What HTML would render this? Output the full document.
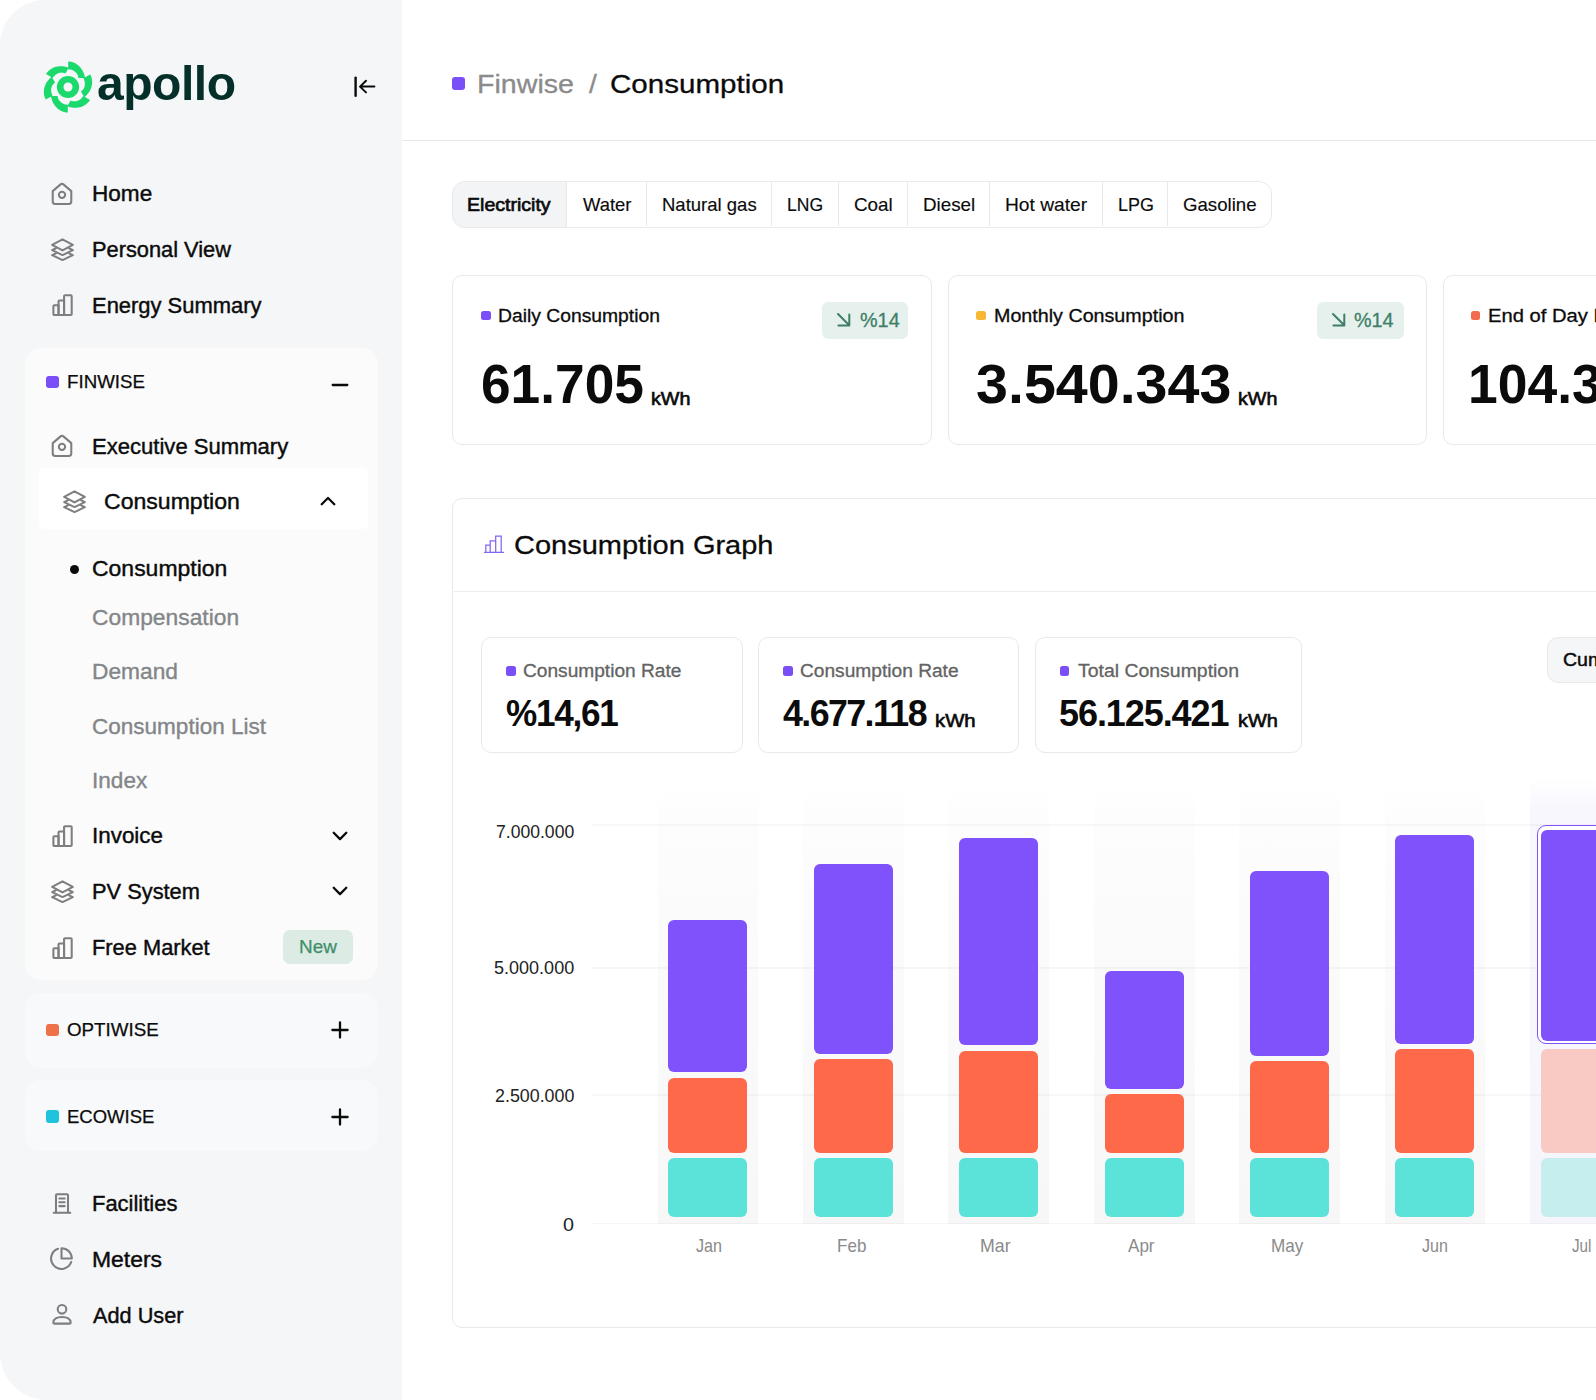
<!DOCTYPE html>
<html lang="en">
<head>
<meta charset="utf-8">
<title>Apollo - Consumption</title>
<style>
*{box-sizing:border-box;margin:0;padding:0}
html,body{width:1596px;height:1400px;overflow:hidden;background:#fff}
body{font-family:"Liberation Sans",Arial,sans-serif;color:#0b0b0b;position:relative}
.abs{position:absolute}
.t{position:absolute;white-space:nowrap;transform-origin:0 50%}
#side{position:absolute;left:0;top:0;width:402px;height:1400px;background:#f5f6f8;border-radius:45px 0 0 47px}
#main{position:absolute;left:402px;top:0;width:1194px;height:1400px;background:#fff;overflow:hidden}
.card{position:absolute;background:#fff;border:1.5px solid #e8e8ea;border-radius:13px}
</style>
</head>
<body>
<div id="side">
<svg class="abs" style="left:39.65px;top:59.40px;width:56px;height:56px" viewBox="-28 -28 56 56"><g fill="#1bd96d"><circle r="11.100"/><path transform="rotate(0)" d="M0.22,-25.52 L2.04,-25.39 L3.83,-25.03 L5.56,-24.47 L7.21,-23.72 L8.75,-22.80 L10.18,-21.74 L11.48,-20.54 L12.64,-19.24 L13.66,-17.87 L14.54,-16.43 L15.27,-14.96 L15.88,-13.46 L16.36,-11.97 L16.72,-10.49 L16.99,-9.03 L10.43,-8.94 L10.27,-10.04 L9.97,-11.12 L9.53,-12.15 L8.97,-13.13 L8.30,-14.04 L7.52,-14.87 L6.65,-15.60 L5.69,-16.24 L4.66,-16.76 L3.58,-17.17 L2.46,-17.45 L1.31,-17.60 L0.15,-17.63Z"/><path transform="rotate(60)" d="M0.22,-25.52 L2.04,-25.39 L3.83,-25.03 L5.56,-24.47 L7.21,-23.72 L8.75,-22.80 L10.18,-21.74 L11.48,-20.54 L12.64,-19.24 L13.66,-17.87 L14.54,-16.43 L15.27,-14.96 L15.88,-13.46 L16.36,-11.97 L16.72,-10.49 L16.99,-9.03 L10.43,-8.94 L10.27,-10.04 L9.97,-11.12 L9.53,-12.15 L8.97,-13.13 L8.30,-14.04 L7.52,-14.87 L6.65,-15.60 L5.69,-16.24 L4.66,-16.76 L3.58,-17.17 L2.46,-17.45 L1.31,-17.60 L0.15,-17.63Z"/><path transform="rotate(120)" d="M0.22,-25.52 L2.04,-25.39 L3.83,-25.03 L5.56,-24.47 L7.21,-23.72 L8.75,-22.80 L10.18,-21.74 L11.48,-20.54 L12.64,-19.24 L13.66,-17.87 L14.54,-16.43 L15.27,-14.96 L15.88,-13.46 L16.36,-11.97 L16.72,-10.49 L16.99,-9.03 L10.43,-8.94 L10.27,-10.04 L9.97,-11.12 L9.53,-12.15 L8.97,-13.13 L8.30,-14.04 L7.52,-14.87 L6.65,-15.60 L5.69,-16.24 L4.66,-16.76 L3.58,-17.17 L2.46,-17.45 L1.31,-17.60 L0.15,-17.63Z"/><path transform="rotate(180)" d="M0.22,-25.52 L2.04,-25.39 L3.83,-25.03 L5.56,-24.47 L7.21,-23.72 L8.75,-22.80 L10.18,-21.74 L11.48,-20.54 L12.64,-19.24 L13.66,-17.87 L14.54,-16.43 L15.27,-14.96 L15.88,-13.46 L16.36,-11.97 L16.72,-10.49 L16.99,-9.03 L10.43,-8.94 L10.27,-10.04 L9.97,-11.12 L9.53,-12.15 L8.97,-13.13 L8.30,-14.04 L7.52,-14.87 L6.65,-15.60 L5.69,-16.24 L4.66,-16.76 L3.58,-17.17 L2.46,-17.45 L1.31,-17.60 L0.15,-17.63Z"/><path transform="rotate(240)" d="M0.22,-25.52 L2.04,-25.39 L3.83,-25.03 L5.56,-24.47 L7.21,-23.72 L8.75,-22.80 L10.18,-21.74 L11.48,-20.54 L12.64,-19.24 L13.66,-17.87 L14.54,-16.43 L15.27,-14.96 L15.88,-13.46 L16.36,-11.97 L16.72,-10.49 L16.99,-9.03 L10.43,-8.94 L10.27,-10.04 L9.97,-11.12 L9.53,-12.15 L8.97,-13.13 L8.30,-14.04 L7.52,-14.87 L6.65,-15.60 L5.69,-16.24 L4.66,-16.76 L3.58,-17.17 L2.46,-17.45 L1.31,-17.60 L0.15,-17.63Z"/><path transform="rotate(300)" d="M0.22,-25.52 L2.04,-25.39 L3.83,-25.03 L5.56,-24.47 L7.21,-23.72 L8.75,-22.80 L10.18,-21.74 L11.48,-20.54 L12.64,-19.24 L13.66,-17.87 L14.54,-16.43 L15.27,-14.96 L15.88,-13.46 L16.36,-11.97 L16.72,-10.49 L16.99,-9.03 L10.43,-8.94 L10.27,-10.04 L9.97,-11.12 L9.53,-12.15 L8.97,-13.13 L8.30,-14.04 L7.52,-14.87 L6.65,-15.60 L5.69,-16.24 L4.66,-16.76 L3.58,-17.17 L2.46,-17.45 L1.31,-17.60 L0.15,-17.63Z"/></g><circle r="4.500" fill="#f5f6f8"/></svg>
<div class="t" id="t0" style="left:96.83px;top:52px;font-size:48px;line-height:62px;color:#05302a;font-weight:bold;transform:translateY(0.70px) scaleX(1.0012);letter-spacing:-0.5px;">apollo</div>
<svg class="abs" style="left:352px;top:74px;width:26px;height:26px" viewBox="0 0 26 26" fill="none" stroke="#0b0b0b" stroke-width="2" stroke-linecap="round" stroke-linejoin="round"><path d="M3.600 3.600v18.200" stroke-width="2.400"/><path d="M22.400 12.600H8.200M14 6.800L8 12.600l6 5.800"/></svg>
<svg class="abs" style="left:50.0px;top:180.7px;width:24px;height:24px" viewBox="0 0 22 22" fill="none" stroke="#7e7e7e" stroke-width="1.88" stroke-linecap="round" stroke-linejoin="round"><path d="M2.5 9.300L9.700 3.100a2 2 0 0 1 2.600 0l7.200 6.200v9.500a2.200 2.200 0 0 1-2.200 2.200H4.700a2.200 2.200 0 0 1-2.200-2.200z"/><circle cx="11" cy="12.700" r="2.900"/></svg>
<div class="t" id="t1" style="left:91.87px;top:180px;font-size:21.5px;line-height:28px;color:#0b0b0b;-webkit-text-stroke:0.4px currentColor;transform:translateY(0.00px) scaleX(1.0495);">Home</div>
<svg class="abs" style="left:49.5px;top:236.5px;width:25px;height:25px" viewBox="0 0 22 22" fill="none" stroke="#7e7e7e" stroke-width="1.80" stroke-linecap="round" stroke-linejoin="round"><path d="M11 2L1.900 7 11 11.800 20.100 7z"/><path d="M5.200 9.900L1.900 11.500 11 15.900l9.100-4.400-3.300-1.600"/><path d="M5.200 14.400L1.900 16 11 20.300 20.100 16l-3.300-1.600"/></svg>
<div class="t" id="t2" style="left:91.92px;top:235px;font-size:21.5px;line-height:28px;color:#0b0b0b;-webkit-text-stroke:0.4px currentColor;transform:translateY(0.60px) scaleX(1.0142);">Personal View</div>
<svg class="abs" style="left:50.7px;top:292.9px;width:23px;height:23px" viewBox="0 0 22 22" fill="none" stroke="#7e7e7e" stroke-width="1.96" stroke-linecap="round" stroke-linejoin="round"><path d="M2.300 12.600a.9.9 0 0 1 .9-.9h4v9.300h-4a.9.9 0 0 1-.9-.9z"/><path d="M7.200 8a.9.9 0 0 1 .9-.9h4.400V21H7.200z"/><path d="M12.500 3a.9.9 0 0 1 .9-.9h5.500a.9.9 0 0 1 .9.9v17.100a.9.9 0 0 1-.9.9h-6.400z"/></svg>
<div class="t" id="t3" style="left:91.91px;top:291px;font-size:21.5px;line-height:28px;color:#0b0b0b;-webkit-text-stroke:0.4px currentColor;transform:translateY(0.50px) scaleX(1.0201);">Energy Summary</div>
<div class="abs" style="left:24.5px;top:347.5px;width:353.0px;height:632.0px;background:#fbfbfc;border-radius:16px"></div>
<div class="abs" style="left:46.2px;top:375.6px;width:12.4px;height:12.4px;background:#7b4ff7;border-radius:3px"></div>
<div class="t" id="t4" style="left:66.63px;top:371px;font-size:18px;line-height:23px;color:#0b0b0b;-webkit-text-stroke:0.25px currentColor;transform:translateY(0.08px) scaleX(1.0395);">FINWISE</div>
<svg class="abs" style="left:329.3px;top:373.7px;width:22px;height:22px" viewBox="-11 -11 22 22" fill="none" stroke="#0b0b0b" stroke-width="2.300" stroke-linecap="round"><path d="M-7.300 0H7.300"/></svg>
<svg class="abs" style="left:50.0px;top:433.3px;width:24px;height:24px" viewBox="0 0 22 22" fill="none" stroke="#7e7e7e" stroke-width="1.88" stroke-linecap="round" stroke-linejoin="round"><path d="M2.5 9.300L9.700 3.100a2 2 0 0 1 2.600 0l7.200 6.200v9.500a2.200 2.200 0 0 1-2.200 2.200H4.700a2.200 2.200 0 0 1-2.200-2.200z"/><circle cx="11" cy="12.700" r="2.900"/></svg>
<div class="t" id="t5" style="left:91.90px;top:432px;font-size:21.5px;line-height:28px;color:#0b0b0b;-webkit-text-stroke:0.4px currentColor;transform:translateY(0.70px) scaleX(1.0264);">Executive Summary</div>
<div class="abs" style="left:38.5px;top:468.4px;width:329.0px;height:60.8px;background:#fff;border-radius:5px"></div>
<svg class="abs" style="left:61.9px;top:488.7px;width:25px;height:25px" viewBox="0 0 22 22" fill="none" stroke="#7e7e7e" stroke-width="1.80" stroke-linecap="round" stroke-linejoin="round"><path d="M11 2L1.900 7 11 11.800 20.100 7z"/><path d="M5.200 9.900L1.900 11.500 11 15.900l9.100-4.400-3.300-1.600"/><path d="M5.200 14.400L1.900 16 11 20.300 20.100 16l-3.300-1.600"/></svg>
<div class="t" id="t6" style="left:104.31px;top:487px;font-size:21.5px;line-height:28px;color:#0b0b0b;-webkit-text-stroke:0.4px currentColor;transform:translateY(0.70px) scaleX(1.0724);">Consumption</div>
<svg class="abs" style="left:317px;top:490.4px;width:22px;height:22px" viewBox="-11 -11 22 22" fill="none" stroke="#0b0b0b" stroke-width="2.300" stroke-linecap="round" stroke-linejoin="round"><path d="M-6.300 3.300L0-3 6.300 3.300"/></svg>
<div class="abs" style="left:69.5px;top:564.6px;width:9.4px;height:9.4px;background:#0b0b0b;border-radius:50%"></div>
<div class="t" id="t7" style="left:92.41px;top:554px;font-size:21.5px;line-height:28px;color:#0b0b0b;-webkit-text-stroke:0.4px currentColor;transform:translateY(0.50px) scaleX(1.0684);">Consumption</div>
<div class="t" id="t8" style="left:92.40px;top:603px;font-size:21.5px;line-height:28px;color:#838688;-webkit-text-stroke:0.35px currentColor;transform:translateY(0.90px) scaleX(1.0610);">Compensation</div>
<div class="t" id="t9" style="left:91.86px;top:658px;font-size:21.5px;line-height:28px;color:#838688;-webkit-text-stroke:0.35px currentColor;transform:translateY(0.10px) scaleX(1.0580);">Demand</div>
<div class="t" id="t10" style="left:92.41px;top:712px;font-size:21.5px;line-height:28px;color:#838688;-webkit-text-stroke:0.35px currentColor;transform:translateY(0.50px) scaleX(1.0475);">Consumption List</div>
<div class="t" id="t11" style="left:91.52px;top:766px;font-size:21.5px;line-height:28px;color:#838688;-webkit-text-stroke:0.35px currentColor;transform:translateY(0.70px) scaleX(1.0500);">Index</div>
<svg class="abs" style="left:50.7px;top:824.2px;width:23px;height:23px" viewBox="0 0 22 22" fill="none" stroke="#7e7e7e" stroke-width="1.96" stroke-linecap="round" stroke-linejoin="round"><path d="M2.300 12.600a.9.9 0 0 1 .9-.9h4v9.300h-4a.9.9 0 0 1-.9-.9z"/><path d="M7.200 8a.9.9 0 0 1 .9-.9h4.400V21H7.200z"/><path d="M12.500 3a.9.9 0 0 1 .9-.9h5.500a.9.9 0 0 1 .9.9v17.100a.9.9 0 0 1-.9.9h-6.400z"/></svg>
<div class="t" id="t12" style="left:91.55px;top:822px;font-size:21.5px;line-height:28px;color:#0b0b0b;-webkit-text-stroke:0.4px currentColor;transform:translateY(0.20px) scaleX(1.0418);">Invoice</div>
<svg class="abs" style="left:329.2px;top:824.5px;width:22px;height:22px" viewBox="-11 -11 22 22" fill="none" stroke="#0b0b0b" stroke-width="2.300" stroke-linecap="round" stroke-linejoin="round"><path d="M-6.300-3.200L0 3.100 6.300-3.200"/></svg>
<svg class="abs" style="left:49.5px;top:878.5px;width:25px;height:25px" viewBox="0 0 22 22" fill="none" stroke="#7e7e7e" stroke-width="1.80" stroke-linecap="round" stroke-linejoin="round"><path d="M11 2L1.900 7 11 11.800 20.100 7z"/><path d="M5.200 9.900L1.900 11.500 11 15.900l9.100-4.400-3.300-1.600"/><path d="M5.200 14.400L1.900 16 11 20.300 20.100 16l-3.300-1.600"/></svg>
<div class="t" id="t13" style="left:91.92px;top:877px;font-size:21.5px;line-height:28px;color:#0b0b0b;-webkit-text-stroke:0.4px currentColor;transform:translateY(0.80px) scaleX(1.0150);">PV System</div>
<svg class="abs" style="left:329.2px;top:880px;width:22px;height:22px" viewBox="-11 -11 22 22" fill="none" stroke="#0b0b0b" stroke-width="2.300" stroke-linecap="round" stroke-linejoin="round"><path d="M-6.300-3.200L0 3.100 6.300-3.200"/></svg>
<svg class="abs" style="left:50.7px;top:935.5px;width:23px;height:23px" viewBox="0 0 22 22" fill="none" stroke="#7e7e7e" stroke-width="1.96" stroke-linecap="round" stroke-linejoin="round"><path d="M2.300 12.600a.9.9 0 0 1 .9-.9h4v9.300h-4a.9.9 0 0 1-.9-.9z"/><path d="M7.200 8a.9.9 0 0 1 .9-.9h4.400V21H7.200z"/><path d="M12.500 3a.9.9 0 0 1 .9-.9h5.500a.9.9 0 0 1 .9.9v17.100a.9.9 0 0 1-.9.9h-6.400z"/></svg>
<div class="t" id="t14" style="left:91.92px;top:933px;font-size:21.5px;line-height:28px;color:#0b0b0b;-webkit-text-stroke:0.4px currentColor;transform:translateY(0.50px) scaleX(1.0153);">Free Market</div>
<div class="abs" style="left:283.0px;top:930.0px;width:69.6px;height:33.7px;background:#dcebe4;border-radius:7px"></div>
<div class="t" id="t15" style="left:298.74px;top:934px;font-size:18.4px;line-height:24px;color:#3f8f6b;-webkit-text-stroke:0.25px currentColor;transform:translateY(0.97px) scaleX(1.0285);">New</div>
<div class="abs" style="left:24.5px;top:993.0px;width:353.0px;height:74.5px;background:#f8f9fa;border-radius:16px"></div>
<div class="abs" style="left:46.2px;top:1023.5px;width:12.4px;height:12.5px;background:#ee7148;border-radius:3px"></div>
<div class="t" id="t16" style="left:67.32px;top:1019px;font-size:18px;line-height:23px;color:#0b0b0b;-webkit-text-stroke:0.25px currentColor;transform:translateY(0.08px) scaleX(1.0417);">OPTIWISE</div>
<svg class="abs" style="left:329.3px;top:1019px;width:22px;height:22px" viewBox="-11 -11 22 22" fill="none" stroke="#0b0b0b" stroke-width="2.300" stroke-linecap="round"><path d="M-7.600 0H7.600M0-7.600V7.600"/></svg>
<div class="abs" style="left:24.5px;top:1080.3px;width:353.0px;height:71.2px;background:#f8f9fa;border-radius:16px"></div>
<div class="abs" style="left:46.2px;top:1110.4px;width:12.4px;height:12.6px;background:#1fc3dc;border-radius:3px"></div>
<div class="t" id="t17" style="left:66.65px;top:1105px;font-size:18px;line-height:23px;color:#0b0b0b;-webkit-text-stroke:0.25px currentColor;transform:translateY(0.98px) scaleX(1.0275);">ECOWISE</div>
<svg class="abs" style="left:329.3px;top:1106px;width:22px;height:22px" viewBox="-11 -11 22 22" fill="none" stroke="#0b0b0b" stroke-width="2.300" stroke-linecap="round"><path d="M-7.600 0H7.600M0-7.600V7.600"/></svg>
<svg class="abs" style="left:50.9px;top:1191.7px;width:22px;height:22px" viewBox="0 0 22 22" fill="none" stroke="#7e7e7e" stroke-width="2.05" stroke-linecap="round" stroke-linejoin="round"><path d="M5 20.500V3.200a1 1 0 0 1 1-1h10a1 1 0 0 1 1 1v17.300"/><path d="M2.700 20.700h16.600"/><path d="M8.300 6.500h5.400M8.300 10.300h5.400M8.300 14.100h5.400"/></svg>
<div class="t" id="t18" style="left:91.91px;top:1190px;font-size:21.5px;line-height:28px;color:#0b0b0b;-webkit-text-stroke:0.4px currentColor;transform:translateY(0.00px) scaleX(1.0212);">Facilities</div>
<svg class="abs" style="left:49.8px;top:1247.4px;width:23px;height:23px" viewBox="0 0 22 22" fill="none" stroke="#7e7e7e" stroke-width="1.96" stroke-linecap="round" stroke-linejoin="round"><path d="M20.300 14.300A9.900 9.900 0 1 1 7.700 1.700"/><path d="M11 1.100a9.900 9.900 0 0 1 9.900 9.900H11z"/></svg>
<div class="t" id="t19" style="left:91.85px;top:1246px;font-size:21.5px;line-height:28px;color:#0b0b0b;-webkit-text-stroke:0.4px currentColor;transform:translateY(0.10px) scaleX(1.0664);">Meters</div>
<svg class="abs" style="left:50.8px;top:1303.1px;width:22px;height:22px" viewBox="0 0 22 22" fill="none" stroke="#7e7e7e" stroke-width="2.05" stroke-linecap="round" stroke-linejoin="round"><circle cx="11" cy="6.300" r="4.300"/><path d="M2.300 19.600c0-3.700 3.800-5.700 8.700-5.700s8.700 2 8.700 5.700c0 .6-.4 1-1 1H3.300c-.6 0-1-.4-1-1z"/></svg>
<div class="t" id="t20" style="left:93.45px;top:1301px;font-size:21.5px;line-height:28px;color:#0b0b0b;-webkit-text-stroke:0.4px currentColor;transform:translateY(0.70px) scaleX(1.0096);">Add User</div>
</div>
<div id="main">
<div class="abs" style="left:50.0px;top:77.2px;width:12.6px;height:12.8px;background:#7b4ff7;border-radius:3px"></div>
<div class="t" id="t21" style="left:74.61px;top:66px;font-size:26px;line-height:34px;color:#8b8b8b;-webkit-text-stroke:0.3px currentColor;transform:translateY(0.70px) scaleX(1.1004);">Finwise</div>
<div class="t" id="t22" style="left:186.55px;top:66px;font-size:26px;line-height:34px;color:#8b8b8b;-webkit-text-stroke:0.3px currentColor;transform:translateY(0.70px) scaleX(1.0858);">/</div>
<div class="t" id="t23" style="left:208.45px;top:66px;font-size:26px;line-height:34px;color:#0b0b0b;-webkit-text-stroke:0.3px currentColor;transform:translateY(0.70px) scaleX(1.1368);">Consumption</div>
<div class="abs" style="left:0.0px;top:139.9px;width:1194.0px;height:1.4px;background:#e7e7e9"></div>
<div class="abs" style="left:49.6px;top:180.6px;width:820.4px;height:47.0px;border:1.5px solid #e9e9eb;border-radius:13px;background:linear-gradient(90deg,#f3f4f6 0,#f3f4f6 114px,#fff 114px)"></div>
<div class="abs" style="left:164.0px;top:182.0px;width:1.2px;height:44.2px;background:#e9e9eb"></div>
<div class="abs" style="left:244.0px;top:182.0px;width:1.2px;height:44.2px;background:#e9e9eb"></div>
<div class="abs" style="left:369.0px;top:182.0px;width:1.2px;height:44.2px;background:#e9e9eb"></div>
<div class="abs" style="left:436.0px;top:182.0px;width:1.2px;height:44.2px;background:#e9e9eb"></div>
<div class="abs" style="left:505.0px;top:182.0px;width:1.2px;height:44.2px;background:#e9e9eb"></div>
<div class="abs" style="left:587.0px;top:182.0px;width:1.2px;height:44.2px;background:#e9e9eb"></div>
<div class="abs" style="left:700.0px;top:182.0px;width:1.2px;height:44.2px;background:#e9e9eb"></div>
<div class="abs" style="left:765.0px;top:182.0px;width:1.2px;height:44.2px;background:#e9e9eb"></div>
<div class="t" id="t24" style="left:64.54px;top:193px;font-size:18.5px;line-height:24px;color:#0b0b0b;-webkit-text-stroke:0.65px currentColor;transform:translateY(0.40px) scaleX(1.0568);">Electricity</div>
<div class="t" id="t25" style="left:180.60px;top:193px;font-size:18.5px;line-height:24px;color:#0b0b0b;-webkit-text-stroke:0.15px currentColor;transform:translateY(0.40px) scaleX(0.9948);">Water</div>
<div class="t" id="t26" style="left:259.76px;top:193px;font-size:18.5px;line-height:24px;color:#0b0b0b;-webkit-text-stroke:0.15px currentColor;transform:translateY(0.40px) scaleX(1.0004);">Natural gas</div>
<div class="t" id="t27" style="left:385.33px;top:193px;font-size:18.5px;line-height:24px;color:#0b0b0b;-webkit-text-stroke:0.15px currentColor;transform:translateY(0.40px) scaleX(0.9477);">LNG</div>
<div class="t" id="t28" style="left:452.04px;top:193px;font-size:18.5px;line-height:24px;color:#0b0b0b;-webkit-text-stroke:0.15px currentColor;transform:translateY(0.40px) scaleX(1.0178);">Coal</div>
<div class="t" id="t29" style="left:520.94px;top:193px;font-size:18.5px;line-height:24px;color:#0b0b0b;-webkit-text-stroke:0.15px currentColor;transform:translateY(0.40px) scaleX(1.0160);">Diesel</div>
<div class="t" id="t30" style="left:603.00px;top:193px;font-size:18.5px;line-height:24px;color:#0b0b0b;-webkit-text-stroke:0.15px currentColor;transform:translateY(0.40px) scaleX(1.0379);">Hot water</div>
<div class="t" id="t31" style="left:715.60px;top:193px;font-size:18.5px;line-height:24px;color:#0b0b0b;-webkit-text-stroke:0.15px currentColor;transform:translateY(0.40px) scaleX(0.9694);">LPG</div>
<div class="t" id="t32" style="left:781.14px;top:193px;font-size:18.5px;line-height:24px;color:#0b0b0b;-webkit-text-stroke:0.15px currentColor;transform:translateY(0.40px) scaleX(1.0079);">Gasoline</div>
<div class="abs" style="left:50.2px;top:275.1px;width:480.2px;height:169.9px;background:#fff;border:1.5px solid #e9e9eb;border-radius:10px;"></div>
<div class="abs" style="left:545.8px;top:275.1px;width:479.0px;height:170.0px;background:#fff;border:1.5px solid #e9e9eb;border-radius:10px;"></div>
<div class="abs" style="left:1040.8px;top:275.1px;width:479.0px;height:170.0px;background:#fff;border:1.5px solid #e9e9eb;border-radius:10px;"></div>
<div class="abs" style="left:79.3px;top:311.0px;width:9.4px;height:9.4px;background:#7b4ff7;border-radius:2.5px"></div>
<div class="t" id="t33" style="left:96.40px;top:304px;font-size:18px;line-height:23px;color:#0b0b0b;-webkit-text-stroke:0.3px currentColor;transform:translateY(0.70px) scaleX(1.0720);">Daily Consumption</div>
<div class="abs" style="left:420.3px;top:301.7px;width:86.0px;height:37.2px;background:#e6f1ed;border-radius:6px"></div>
<svg class="abs" style="left:432.8px;top:311.3px;width:18px;height:18px" viewBox="-2 -2 18 18" fill="none" stroke="#3f7f68" stroke-width="2" stroke-linecap="round" stroke-linejoin="round"><path d="M1 1L12 12M12.300 1.500V12.400H1.400"/></svg>
<div class="t" id="t34" style="left:457.69px;top:308px;font-size:19.5px;line-height:25px;color:#3f7f68;-webkit-text-stroke:0.3px currentColor;transform:translateY(0.30px) scaleX(1.0161);">%14</div>
<div class="t" id="t35" style="left:79.26px;top:348px;font-size:55px;line-height:72px;color:#0b0b0b;font-weight:bold;transform:translateY(0.20px) scaleX(0.9685);">61.705</div>
<div class="t" id="t36" style="left:249.31px;top:387px;font-size:17.7px;line-height:23px;color:#0b0b0b;-webkit-text-stroke:0.6px currentColor;transform:translateY(0.50px) scaleX(1.1163);">kWh</div>
<div class="abs" style="left:574.3px;top:311.0px;width:9.4px;height:9.4px;background:#f7b733;border-radius:2.5px"></div>
<div class="t" id="t37" style="left:591.58px;top:304px;font-size:18px;line-height:23px;color:#0b0b0b;-webkit-text-stroke:0.3px currentColor;transform:translateY(0.70px) scaleX(1.0938);">Monthly Consumption</div>
<div class="abs" style="left:915.0px;top:301.7px;width:86.5px;height:37.2px;background:#e6f1ed;border-radius:6px"></div>
<svg class="abs" style="left:927.5px;top:311.3px;width:18px;height:18px" viewBox="-2 -2 18 18" fill="none" stroke="#3f7f68" stroke-width="2" stroke-linecap="round" stroke-linejoin="round"><path d="M1 1L12 12M12.300 1.500V12.400H1.400"/></svg>
<div class="t" id="t38" style="left:952.49px;top:308px;font-size:19.5px;line-height:25px;color:#3f7f68;-webkit-text-stroke:0.3px currentColor;transform:translateY(0.30px) scaleX(1.0135);">%14</div>
<div class="t" id="t39" style="left:573.84px;top:348px;font-size:55px;line-height:72px;color:#0b0b0b;font-weight:bold;transform:translateY(0.20px) scaleX(1.0438);">3.540.343</div>
<div class="t" id="t40" style="left:835.51px;top:387px;font-size:17.7px;line-height:23px;color:#0b0b0b;-webkit-text-stroke:0.6px currentColor;transform:translateY(0.50px) scaleX(1.1134);">kWh</div>
<div class="abs" style="left:1068.8px;top:311.0px;width:9.4px;height:9.4px;background:#f36b4f;border-radius:2.5px"></div>
<div class="t" id="t41" style="left:1085.74px;top:304px;font-size:18px;line-height:23px;color:#0b0b0b;-webkit-text-stroke:0.3px currentColor;transform:translateY(0.70px) scaleX(1.1215);">End of Day Estimate</div>
<div class="t" id="t42" style="left:1066.22px;top:348px;font-size:55px;line-height:72px;color:#0b0b0b;font-weight:bold;transform:translateY(0.20px) scaleX(0.9721);">104.375</div>
<div class="abs" style="left:50.2px;top:497.9px;width:1469.5px;height:830.3px;background:#fff;border:1.5px solid #e9e9eb;border-radius:10px;"></div>
<div class="abs" style="left:52.0px;top:590.6px;width:1142.0px;height:1.4px;background:#ececee"></div>
<svg class="abs" style="left:78px;top:530px;width:28px;height:26px" viewBox="480 530 28 26" fill="none" stroke="#8465f3" stroke-width="1.250" stroke-linejoin="miter" stroke-linecap="round"><path d="M484.500 552.300H503.500M485.800 552.300V545h4.400V552.300M490.200 545V540.800h5.500V552.300M495.700 540.800V536h5.500V552.300"/></svg>
<div class="t" id="t43" style="left:112.28px;top:528px;font-size:26px;line-height:34px;color:#0b0b0b;-webkit-text-stroke:0.3px currentColor;transform:translateY(0.20px) scaleX(1.1152);">Consumption Graph</div>
<div class="abs" style="left:79.4px;top:636.9px;width:261.3px;height:116.6px;background:#fff;border:1.5px solid #e9e9eb;border-radius:10px;"></div>
<div class="abs" style="left:355.8px;top:636.9px;width:261.5px;height:116.6px;background:#fff;border:1.5px solid #e9e9eb;border-radius:10px;"></div>
<div class="abs" style="left:632.8px;top:636.9px;width:267.6px;height:116.6px;background:#fff;border:1.5px solid #e9e9eb;border-radius:10px;"></div>
<div class="abs" style="left:1145.4px;top:636.6px;width:152.6px;height:46.6px;background:#f5f6f8;border:1.5px solid #e9e9eb;border-radius:11px"></div>
<div class="t" id="t44" style="left:1160.97px;top:649px;font-size:18px;line-height:23px;color:#0b0b0b;-webkit-text-stroke:0.45px currentColor;transform:translateY(0.40px) scaleX(1.0846);">Cumulative</div>
<div class="abs" style="left:104.3px;top:666.0px;width:9.4px;height:9.5px;background:#7b4ff7;border-radius:2.5px"></div>
<div class="t" id="t45" style="left:121.42px;top:659px;font-size:18px;line-height:23px;color:#636363;-webkit-text-stroke:0.3px currentColor;transform:translateY(0.90px) scaleX(1.0623);">Consumption Rate</div>
<div class="t" id="t46" style="left:104.08px;top:690px;font-size:36.5px;line-height:47px;color:#0b0b0b;font-weight:bold;transform:translateY(0.10px) scaleX(0.9625);letter-spacing:-1.3px;">%14,61</div>
<div class="abs" style="left:381.2px;top:666.0px;width:9.4px;height:9.5px;background:#7b4ff7;border-radius:2.5px"></div>
<div class="t" id="t47" style="left:398.32px;top:659px;font-size:18px;line-height:23px;color:#636363;-webkit-text-stroke:0.3px currentColor;transform:translateY(0.90px) scaleX(1.0637);">Consumption Rate</div>
<div class="t" id="t48" style="left:380.86px;top:690px;font-size:36.5px;line-height:47px;color:#0b0b0b;font-weight:bold;transform:translateY(0.10px) scaleX(0.9793);letter-spacing:-1.6px;">4.677.118</div>
<div class="t" id="t49" style="left:533.38px;top:709px;font-size:17.7px;line-height:23px;color:#0b0b0b;-webkit-text-stroke:0.6px currentColor;transform:translateY(0.50px) scaleX(1.1490);">kWh</div>
<div class="abs" style="left:658.0px;top:666.0px;width:9.4px;height:9.5px;background:#7b4ff7;border-radius:2.5px"></div>
<div class="t" id="t50" style="left:675.90px;top:659px;font-size:18px;line-height:23px;color:#636363;-webkit-text-stroke:0.3px currentColor;transform:translateY(0.90px) scaleX(1.0797);">Total Consumption</div>
<div class="t" id="t51" style="left:657.28px;top:690px;font-size:36.5px;line-height:47px;color:#0b0b0b;font-weight:bold;transform:translateY(0.10px) scaleX(0.9868);letter-spacing:-1.1px;">56.125.421</div>
<div class="t" id="t52" style="left:836.20px;top:709px;font-size:17.7px;line-height:23px;color:#0b0b0b;-webkit-text-stroke:0.6px currentColor;transform:translateY(0.50px) scaleX(1.1282);">kWh</div>
<div class="t" id="t53" style="left:94.11px;top:820px;font-size:17.8px;line-height:23px;color:#222;transform:translateY(0.50px) scaleX(0.9882);">7.000.000</div>
<div class="t" id="t54" style="left:92.10px;top:956px;font-size:17.8px;line-height:23px;color:#222;transform:translateY(0.50px) scaleX(1.0139);">5.000.000</div>
<div class="t" id="t55" style="left:92.91px;top:1084px;font-size:17.8px;line-height:23px;color:#222;transform:translateY(0.80px) scaleX(1.0035);">2.500.000</div>
<div class="t" id="t56" style="left:161.43px;top:1213px;font-size:17.8px;line-height:23px;color:#222;transform:translateY(0.50px) scaleX(1.1103);">0</div>
<div class="abs" style="left:255.7px;top:784.0px;width:100.7px;height:440.2px;background:linear-gradient(to bottom,rgba(247,247,248,0) 0,rgba(247,247,248,0.25) 36px,rgba(247,247,248,0.5) 140px,rgba(247,247,248,1) 100%)"></div>
<div class="abs" style="left:401.1px;top:784.0px;width:100.7px;height:440.2px;background:linear-gradient(to bottom,rgba(247,247,248,0) 0,rgba(247,247,248,0.25) 36px,rgba(247,247,248,0.5) 140px,rgba(247,247,248,1) 100%)"></div>
<div class="abs" style="left:546.3px;top:784.0px;width:100.7px;height:440.2px;background:linear-gradient(to bottom,rgba(247,247,248,0) 0,rgba(247,247,248,0.25) 36px,rgba(247,247,248,0.5) 140px,rgba(247,247,248,1) 100%)"></div>
<div class="abs" style="left:691.9px;top:784.0px;width:100.7px;height:440.2px;background:linear-gradient(to bottom,rgba(247,247,248,0) 0,rgba(247,247,248,0.25) 36px,rgba(247,247,248,0.5) 140px,rgba(247,247,248,1) 100%)"></div>
<div class="abs" style="left:837.4px;top:784.0px;width:100.7px;height:440.2px;background:linear-gradient(to bottom,rgba(247,247,248,0) 0,rgba(247,247,248,0.25) 36px,rgba(247,247,248,0.5) 140px,rgba(247,247,248,1) 100%)"></div>
<div class="abs" style="left:982.7px;top:784.0px;width:100.7px;height:440.2px;background:linear-gradient(to bottom,rgba(247,247,248,0) 0,rgba(247,247,248,0.25) 36px,rgba(247,247,248,0.5) 140px,rgba(247,247,248,1) 100%)"></div>
<div class="abs" style="left:1128.1px;top:778.0px;width:100.7px;height:446.2px;background:linear-gradient(to bottom,rgba(247,245,253,0) 0,rgba(247,245,253,0.8) 30px,rgba(247,245,252,1) 100%)"></div>
<div class="abs" style="left:189.7px;top:824.4px;width:1004.3px;height:1.4px;background:rgba(0,0,0,0.032)"></div>
<div class="abs" style="left:189.7px;top:967.3px;width:1004.3px;height:1.4px;background:rgba(0,0,0,0.032)"></div>
<div class="abs" style="left:189.7px;top:1094.4px;width:1004.3px;height:1.4px;background:rgba(0,0,0,0.032)"></div>
<div class="abs" style="left:189.7px;top:1222.9px;width:1004.3px;height:1.4px;background:rgba(0,0,0,0.032)"></div>
<div class="abs" style="left:266.3px;top:919.8px;width:79.2px;height:152.7px;background:#7f52fb;border-radius:6px"></div>
<div class="abs" style="left:266.3px;top:1077.7px;width:79.2px;height:75.3px;background:#fe694a;border-radius:6px"></div>
<div class="abs" style="left:266.3px;top:1158.0px;width:79.2px;height:58.6px;background:#5be3da;border-radius:6px"></div>
<div class="t" id="t57" style="left:294.47px;top:1235px;font-size:17.8px;line-height:23px;color:#8a8a8a;transform:translateY(0.00px) scaleX(0.9060);">Jan</div>
<div class="abs" style="left:411.7px;top:863.5px;width:79.2px;height:190.2px;background:#7f52fb;border-radius:6px"></div>
<div class="abs" style="left:411.7px;top:1059.0px;width:79.2px;height:94.0px;background:#fe694a;border-radius:6px"></div>
<div class="abs" style="left:411.7px;top:1158.0px;width:79.2px;height:58.6px;background:#5be3da;border-radius:6px"></div>
<div class="t" id="t58" style="left:435.23px;top:1235px;font-size:17.8px;line-height:23px;color:#8a8a8a;transform:translateY(0.00px) scaleX(0.9590);">Feb</div>
<div class="abs" style="left:556.9px;top:837.5px;width:79.2px;height:207.9px;background:#7f52fb;border-radius:6px"></div>
<div class="abs" style="left:556.9px;top:1050.7px;width:79.2px;height:102.3px;background:#fe694a;border-radius:6px"></div>
<div class="abs" style="left:556.9px;top:1158.0px;width:79.2px;height:58.6px;background:#5be3da;border-radius:6px"></div>
<div class="t" id="t59" style="left:578.48px;top:1235px;font-size:17.8px;line-height:23px;color:#8a8a8a;transform:translateY(0.00px) scaleX(0.9974);">Mar</div>
<div class="abs" style="left:702.5px;top:970.6px;width:79.2px;height:118.1px;background:#7f52fb;border-radius:6px"></div>
<div class="abs" style="left:702.5px;top:1094.4px;width:79.2px;height:58.6px;background:#fe694a;border-radius:6px"></div>
<div class="abs" style="left:702.5px;top:1158.0px;width:79.2px;height:58.6px;background:#5be3da;border-radius:6px"></div>
<div class="t" id="t60" style="left:725.60px;top:1235px;font-size:17.8px;line-height:23px;color:#8a8a8a;transform:translateY(0.00px) scaleX(0.9598);">Apr</div>
<div class="abs" style="left:848.0px;top:871.0px;width:79.2px;height:185.3px;background:#7f52fb;border-radius:6px"></div>
<div class="abs" style="left:848.0px;top:1061.2px;width:79.2px;height:91.8px;background:#fe694a;border-radius:6px"></div>
<div class="abs" style="left:848.0px;top:1158.0px;width:79.2px;height:58.6px;background:#5be3da;border-radius:6px"></div>
<div class="t" id="t61" style="left:868.93px;top:1235px;font-size:17.8px;line-height:23px;color:#8a8a8a;transform:translateY(0.00px) scaleX(0.9617);">May</div>
<div class="abs" style="left:993.3px;top:834.5px;width:79.2px;height:209.8px;background:#7f52fb;border-radius:6px"></div>
<div class="abs" style="left:993.3px;top:1049.2px;width:79.2px;height:103.8px;background:#fe694a;border-radius:6px"></div>
<div class="abs" style="left:993.3px;top:1158.0px;width:79.2px;height:58.6px;background:#5be3da;border-radius:6px"></div>
<div class="t" id="t62" style="left:1019.58px;top:1235px;font-size:17.8px;line-height:23px;color:#8a8a8a;transform:translateY(0.00px) scaleX(0.9023);">Jun</div>
<div class="abs" style="left:1134.7px;top:825.2px;width:87.2px;height:219.2px;border:1.700px solid #7f52fb;border-radius:9px;background:#fff"></div>
<div class="abs" style="left:1138.7px;top:830.0px;width:79.2px;height:210.5px;background:#7f52fb;border-radius:6px"></div>
<div class="abs" style="left:1138.7px;top:1049.2px;width:79.2px;height:103.8px;background:#f9c9c4;border-radius:6px"></div>
<div class="abs" style="left:1138.7px;top:1158.0px;width:79.2px;height:58.6px;background:#c6eeee;border-radius:6px"></div>
<div class="t" id="t63" style="left:1169.60px;top:1235px;font-size:17.8px;line-height:23px;color:#8a8a8a;transform:translateY(0.00px) scaleX(0.8544);">Jul</div>
</div>
</body>
</html>
